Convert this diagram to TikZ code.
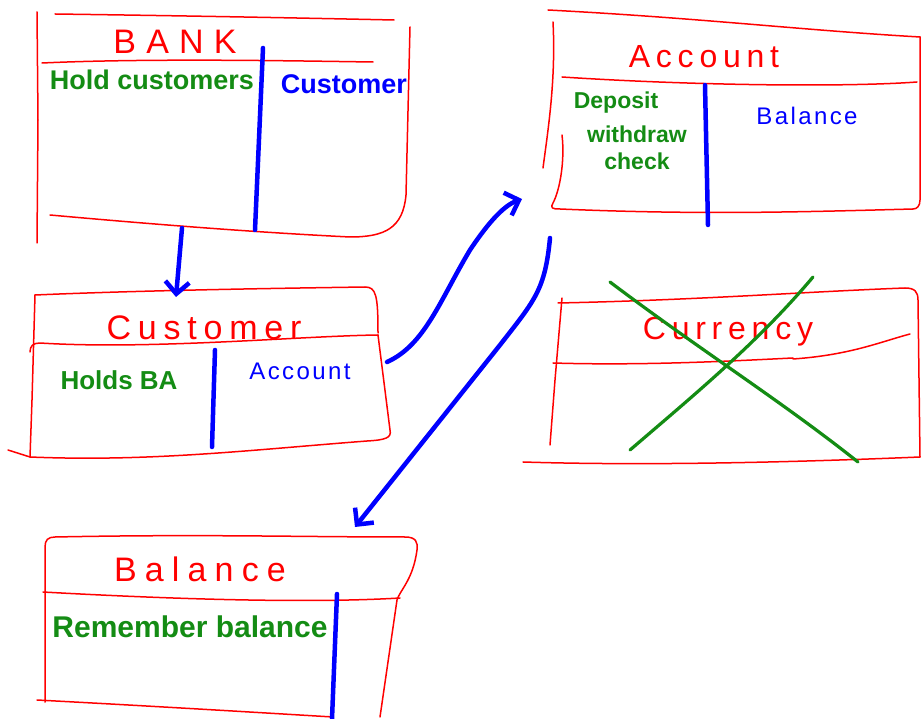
\documentclass[tikz,border=0pt]{standalone}
\usepackage{fontspec}
\setmainfont{Liberation Sans}
\usetikzlibrary{arrows.meta}
\newcommand\hwsize[1]{\fontsize{#1}{#1}\selectfont}
\definecolor{penred}{HTML}{FF0000}
\definecolor{penblue}{HTML}{0000FF}
\definecolor{pengreen}{HTML}{148C14}
\begin{document}
\begin{tikzpicture}[x=1pt,y=-1pt,
  redline/.style={draw=penred, line width=1.5pt, line cap=round, line join=round},
  blueline/.style={draw=penblue, line width=4.5pt, line cap=round},
  bluearrow/.style={blueline, -{Straight Barb[length=12pt,width=24pt,line width=4.5pt]}},
  crossline/.style={draw=pengreen, line width=3.2pt, line cap=round},
  cardtitle/.style={text=penred, inner sep=0pt, font=\hwsize{32}\addfontfeatures{LetterSpace=18}},
  resp/.style={text=pengreen, inner sep=0pt, font=\hwsize{24}\bfseries},
  collab/.style={text=penblue, inner sep=0pt, font=\hwsize{24}\addfontfeatures{LetterSpace=10}}]
\useasboundingbox (0,0) rectangle (922,719);

% ---------------- BANK card ----------------
\draw[redline] (37,12) -- (38,120) -- (37,243);
\draw[redline] (55,14) .. controls (200,16) and (300,18) .. (394,20);
\draw[redline] (410,27) -- (406,195) .. controls (403,228) and (385,237) .. (350,237)
   .. controls (250,232) and (150,224) .. (50,215);
\draw[redline] (42,63) .. controls (150,58) and (300,61) .. (373,62);
\draw[blueline] (263,48) -- (255,230);
\node[cardtitle, font=\hwsize{34}\addfontfeatures{LetterSpace=30}] (bankT) at (175,42) {BANK};
\node[resp, font=\hwsize{27}\bfseries] (bankR) at (152,80) {Hold customers};
\node[collab, font=\hwsize{27}\bfseries] (bankC) at (344,84) {Customer};
\coordinate (bankOut) at (182,228);

% ---------------- Customer card ----------------
\draw[redline] (35,295) .. controls (150,290) and (300,288) .. (365,287)
   .. controls (376,287) and (378,295) .. (378,333);
\draw[redline] (35,295) -- (32,400) -- (30,457);
\draw[redline] (30,352) .. controls (30,346) and (33,343) .. (40,343)
   .. controls (150,350) and (300,336) .. (378,335);
\draw[redline] (378,335) -- (390,430) .. controls (392,438) and (385,440) .. (367,441)
   .. controls (250,450) and (150,462) .. (30,457) -- (8,450);
\draw[blueline] (215,350) -- (212,447);
\node[cardtitle, font=\hwsize{34}\addfontfeatures{LetterSpace=20}] (custT) at (204,328) {Customer};
\node[resp, font=\hwsize{26}\bfseries] (custR) at (119,380) {Holds BA};
\node[collab] (custC) at (300,371) {Account};
\coordinate (custIn) at (176,297);
\coordinate (custOut) at (387,362);

% ---------------- Account card ----------------
\draw[redline] (548,10) .. controls (700,18) and (800,30) .. (920,37);
\draw[redline] (553,22) .. controls (556,80) and (548,130) .. (543,168);
\draw[redline] (562,135) .. controls (565,160) and (560,190) .. (553,203)
   .. controls (550,208) and (552,209) .. (560,209)
   .. controls (700,215) and (800,212) .. (913,209);
\draw[redline] (562,77) .. controls (700,86) and (850,87) .. (917,82);
\draw[redline] (920,37) -- (920,200) .. controls (920,206) and (917,209) .. (913,209);
\draw[blueline] (705,85) -- (708,225);
\node[cardtitle] (accT) at (704,57) {Account};
\node[resp, font=\hwsize{23}\bfseries] (accR1) at (616,103) {Deposit};
\node[resp, font=\hwsize{23}\bfseries] (accR2) at (637,134) {withdraw};
\node[resp, font=\hwsize{23}\bfseries] (accR3) at (637,161) {check};
\node[collab] (accC) at (807,116) {Balance};
\coordinate (accIn) at (522,199);
\coordinate (accOut) at (550,238);

% ---------------- Currency card (crossed out) ----------------
\draw[redline] (558,303) .. controls (700,300) and (800,292) .. (905,288)
   .. controls (915,288) and (918,292) .. (918,300) -- (920,457);
\draw[redline] (562,298) -- (555,380) -- (550,445);
\draw[redline] (553,363) .. controls (650,366) and (750,360) .. (793,358);
\draw[redline] (793,359) .. controls (850,355) and (880,342) .. (910,334);
\draw[redline] (523,462) .. controls (650,466) and (800,462) .. (920,457);
\node[cardtitle] (curT) at (728,332) {Currency};
\draw[crossline] (610,282) .. controls (700,350) and (780,400) .. (858,462);
\draw[crossline] (813,277) .. controls (760,340) and (700,390) .. (630,450);

% ---------------- Balance card ----------------
\draw[redline] (45,702) -- (45,547) .. controls (45,540) and (48,537) .. (55,537)
   .. controls (200,534) and (300,537) .. (405,537)
   .. controls (416,537) and (418,542) .. (417,550)
   .. controls (413,580) and (400,590) .. (397,600) -- (380,717);
\draw[redline] (43,592) .. controls (150,598) and (300,604) .. (400,598);
\draw[redline] (37,700) .. controls (150,706) and (250,712) .. (333,717);
\draw[blueline] (337,594) -- (332,719);
\node[cardtitle, font=\hwsize{34}\addfontfeatures{LetterSpace=24}] (balT) at (200,569) {Balance};
\node[resp, font=\hwsize{30}\bfseries] (balR) at (190,627) {Remember balance};
\coordinate (balIn) at (355,527);

% ---------------- connectors ----------------
\draw[bluearrow] (bankOut) -- (custIn);
\draw[bluearrow] (custOut) .. controls (425,345) and (440,300) .. (470,250)
   .. controls (490,220) and (505,205) .. (accIn);
\draw[bluearrow] (accOut) .. controls (545,290) and (535,300) .. (500,345)
   -- (balIn);
\end{tikzpicture}
\end{document}
